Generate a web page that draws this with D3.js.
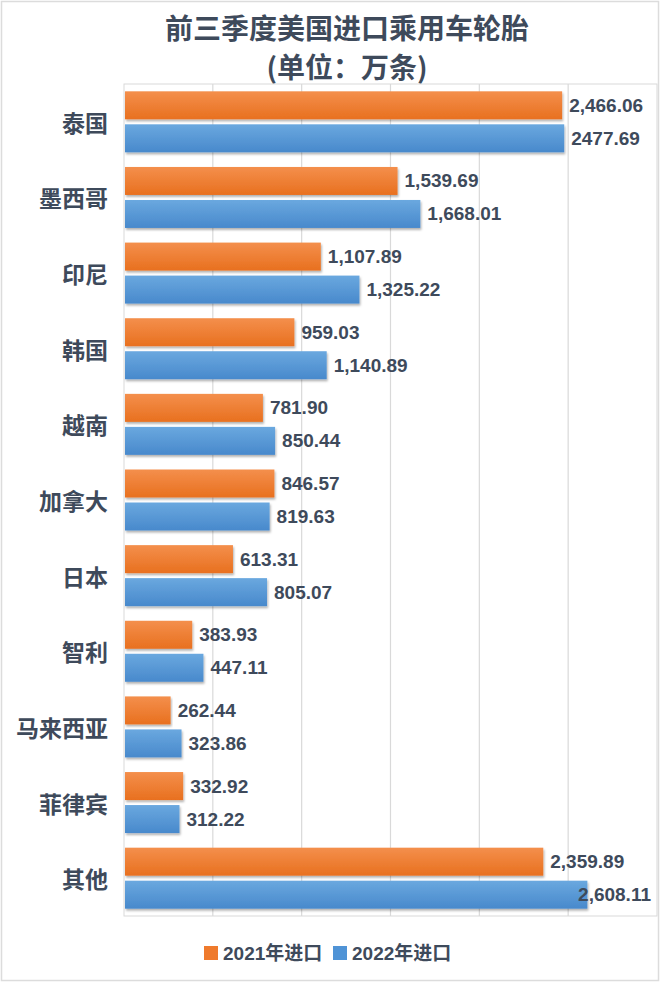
<!DOCTYPE html>
<html>
<head>
<meta charset="utf-8">
<script src="https://cdn.jsdelivr.net/npm/d3@7"></script>
<style>
  body { margin: 0; background: #fff; }
  svg { display: block; }
</style>
</head>
<body>
<script>
// data
var categories = ["泰国", "墨西哥", "印尼", "韩国", "越南", "加拿大", "日本", "智利", "马来西亚", "菲律宾", "其他"];
var values2021 = [2466.06, 1539.69, 1107.89, 959.03, 781.90, 846.57, 613.31, 383.93, 262.44, 332.92, 2359.89];
var values2022 = [2477.69, 1668.01, 1325.22, 1140.89, 850.44, 819.63, 805.07, 447.11, 323.86, 312.22, 2608.11];
var labels2021 = ["2,466.06", "1,539.69", "1,107.89", "959.03", "781.90", "846.57", "613.31", "383.93", "262.44", "332.92", "2,359.89"];
var labels2022 = ["2477.69", "1,668.01", "1,325.22", "1,140.89", "850.44", "819.63", "805.07", "447.11", "323.86", "312.22", "2,608.11"];
var seriesNames = ["2021年进口", "2022年进口"];
var xTicks = [0, 500, 1000, 1500, 2000, 2500, 3000];

var w = 660, h = 982;
var plotL = 124, plotR = 657, plotT = 84, plotB = 916;
var textColor = "#3e4a5b";
var numFont = "'Liberation Sans', Arial, 'Noto Sans CJK SC', sans-serif";
var cjkFont = "'Noto Sans CJK SC', sans-serif";

var svg = d3.select("body").append("svg")
  .attr("width", w)
  .attr("height", h);

var defs = svg.append("defs");
function grad(id, c1, c2) {
  var g = defs.append("linearGradient").attr("id", id)
    .attr("x1", 0).attr("y1", 0).attr("x2", 0).attr("y2", 1);
  g.append("stop").attr("offset", "0%").attr("stop-color", c1);
  g.append("stop").attr("offset", "100%").attr("stop-color", c2);
}
grad("gOrange", "#f48f4c", "#e8701f");
grad("gBlue", "#6aa8df", "#4889cc");
var f = defs.append("filter").attr("id", "shadow")
  .attr("x", "-5%").attr("y", "-20%").attr("width", "110%").attr("height", "160%");
f.append("feDropShadow").attr("dx", 1).attr("dy", 2).attr("stdDeviation", 1.2)
  .attr("flood-color", "#000").attr("flood-opacity", 0.3);

// outer frame
svg.append("rect").attr("x", 1.5).attr("y", 1.5).attr("width", w - 3).attr("height", h - 3)
  .attr("fill", "none").attr("stroke", "#dcdcdc").attr("stroke-width", 1.5);

// title
svg.append("text").attr("x", 347).attr("y", 27)
  .attr("text-anchor", "middle").attr("dominant-baseline", "central")
  .attr("font-family", cjkFont).attr("font-weight", "bold").attr("font-size", 28)
  .attr("fill", textColor).text("前三季度美国进口乘用车轮胎");
svg.append("text").attr("x", 347).attr("y", 66)
  .attr("text-anchor", "middle").attr("dominant-baseline", "central")
  .attr("font-family", cjkFont).attr("font-weight", "bold").attr("font-size", 28)
  .attr("fill", textColor).text("(单位：万条)");

var x = d3.scaleLinear().domain([0, 3000]).range([plotL, plotR]);
var y = d3.scaleBand().domain(categories).range([plotT, plotB]);

// plot frame and grid
svg.append("rect").attr("x", plotL).attr("y", plotT)
  .attr("width", plotR - plotL).attr("height", plotB - plotT)
  .attr("fill", "#fff").attr("stroke", "#d9d9d9").attr("stroke-width", 1);
svg.append("g").selectAll("line")
  .data(xTicks.slice(1, -1))
  .enter().append("line")
  .attr("x1", function(d) { return x(d); })
  .attr("x2", function(d) { return x(d); })
  .attr("y1", plotT).attr("y2", plotB)
  .attr("stroke", "#d9d9d9").attr("stroke-width", 1.2);

// category labels
svg.append("g").selectAll("text")
  .data(categories)
  .enter().append("text")
  .attr("x", 108)
  .attr("y", function(d) { return y(d) + y.bandwidth() / 2; })
  .attr("text-anchor", "end").attr("dominant-baseline", "central")
  .attr("font-family", cjkFont).attr("font-weight", "bold").attr("font-size", 23)
  .attr("fill", textColor)
  .text(function(d) { return d; });

var barH = 28, gap = 5;
var series = [
  { vals: values2021, labels: labels2021, fill: "url(#gOrange)", off: -gap / 2 - barH },
  { vals: values2022, labels: labels2022, fill: "url(#gBlue)", off: gap / 2 }
];

series.forEach(function(s) {
  var g = svg.append("g");
  g.selectAll("rect")
    .data(categories)
    .enter().append("rect")
    .attr("x", x(0) + 1)
    .attr("y", function(d) { return y(d) + y.bandwidth() / 2 + s.off; })
    .attr("width", function(d, i) { return x(s.vals[i]) - x(0) - 1; })
    .attr("height", barH)
    .attr("fill", s.fill)
    .attr("filter", "url(#shadow)");
  g.selectAll("text")
    .data(categories)
    .enter().append("text")
    .attr("y", function(d) { return y(d) + y.bandwidth() / 2 + s.off + barH / 2; })
    .attr("dominant-baseline", "central")
    .attr("font-family", numFont).attr("font-weight", "bold").attr("font-size", 19)
    .attr("fill", textColor)
    .text(function(d, i) { return s.labels[i]; })
    .attr("x", function(d, i) {
      var tw = this.getComputedTextLength();
      return Math.min(x(s.vals[i]) + 7, plotR - 6 - tw);
    });
});

// legend
var legend = svg.append("g");
var lx = [204, 333];
seriesNames.forEach(function(name, i) {
  legend.append("rect").attr("x", lx[i]).attr("y", 946).attr("width", 14).attr("height", 14)
    .attr("fill", i === 0 ? "#ef7a2c" : "#4f93d6");
  legend.append("text").attr("x", lx[i] + 19).attr("y", 953)
    .attr("dominant-baseline", "central")
    .attr("font-family", numFont).attr("font-weight", "bold").attr("font-size", 19)
    .attr("fill", textColor).text(name);
});
</script>
</body>
</html>
